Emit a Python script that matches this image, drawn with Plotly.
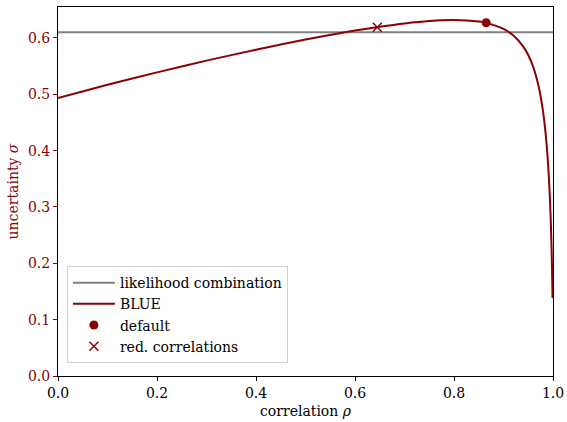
import plotly.graph_objects as go

# BLUE uncertainty vs correlation
rho = [0.0, 0.1, 0.2, 0.3, 0.4, 0.5, 0.6, 0.65, 0.7, 0.75, 0.8, 0.85, 0.865, 0.9,
       0.92, 0.94, 0.95, 0.96, 0.97, 0.975, 0.98, 0.985, 0.99, 0.993, 0.995,
       0.997, 0.998, 0.9985, 0.999]
sigma_blue = [0.4935, 0.5169, 0.5390, 0.5598, 0.5792, 0.5972, 0.6131, 0.6200,
              0.6259, 0.6302, 0.6320, 0.6292, 0.6268, 0.6160, 0.6043, 0.5847,
              0.5697, 0.5487, 0.5179, 0.4965, 0.4687, 0.4311, 0.3767, 0.3299,
              0.2881, 0.2310, 0.1922, 0.1680, 0.1385]

likelihood_rho = [0.0, 1.0]
likelihood_sigma = [0.61, 0.61]

default_rho = [0.865]
default_sigma = [0.627]

red_corr_rho = [0.645]
red_corr_sigma = [0.619]

DARKRED = "#8b0000"
FONT = "DejaVu Serif"

fig = go.Figure()
fig.add_trace(go.Scatter(x=likelihood_rho, y=likelihood_sigma, mode="lines",
                         line=dict(color="#808080", width=2),
                         name="likelihood combination"))
fig.add_trace(go.Scatter(x=rho, y=sigma_blue, mode="lines",
                         line=dict(color=DARKRED, width=2, shape="spline", smoothing=0.6),
                         name="BLUE", cliponaxis=False))
fig.add_trace(go.Scatter(x=default_rho, y=default_sigma, mode="markers",
                         marker=dict(color=DARKRED, size=9, symbol="circle"),
                         name="default"))
fig.add_trace(go.Scatter(x=red_corr_rho, y=red_corr_sigma, mode="markers",
                         marker=dict(color=DARKRED, size=9, symbol="x-thin",
                                     line=dict(color=DARKRED, width=1.5)),
                         name="red. correlations"))

fig.update_layout(
    width=567, height=422,
    margin=dict(l=58, r=14, t=7, b=46),
    paper_bgcolor="white", plot_bgcolor="white",
    font=dict(family=FONT, size=14, color="black"),
    showlegend=True,
    legend=dict(x=0.018, y=0.298, xanchor="left", yanchor="top",
                bgcolor="rgba(255,255,255,0.8)", bordercolor="#d0d0d0", borderwidth=1,
                font=dict(family=FONT, size=14), tracegroupgap=0,
                itemwidth=42),
)
fig.update_xaxes(range=[0, 1], tickvals=[0, 0.2, 0.4, 0.6, 0.8, 1.0],
                 ticktext=["0.0", "0.2", "0.4", "0.6", "0.8", "1.0"],
                 automargin=False,
                 showgrid=False, zeroline=False, showline=True, linecolor="black",
                 linewidth=1, mirror=True, ticks="outside", ticklen=4, tickcolor="black",
                 title=dict(text="correlation <i>ρ</i>", font=dict(size=14), standoff=6),
                 tickfont=dict(size=14, color="black"))
fig.update_yaxes(range=[0, 0.655], tickvals=[0, 0.1, 0.2, 0.3, 0.4, 0.5, 0.6],
                 ticktext=["0.0", "0.1", "0.2", "0.3", "0.4", "0.5", "0.6"],
                 automargin=False,
                 showgrid=False, zeroline=False, showline=True, linecolor="black",
                 linewidth=1, mirror=True, ticks="outside", ticklen=4, tickcolor=DARKRED,
                 title=dict(text="uncertainty <i>σ</i>", font=dict(size=14, color=DARKRED), standoff=6),
                 tickfont=dict(size=14, color=DARKRED))

fig.write_html("out.html", config={"displayModeBar": False},
               post_script="document.body.style.margin='0';")
